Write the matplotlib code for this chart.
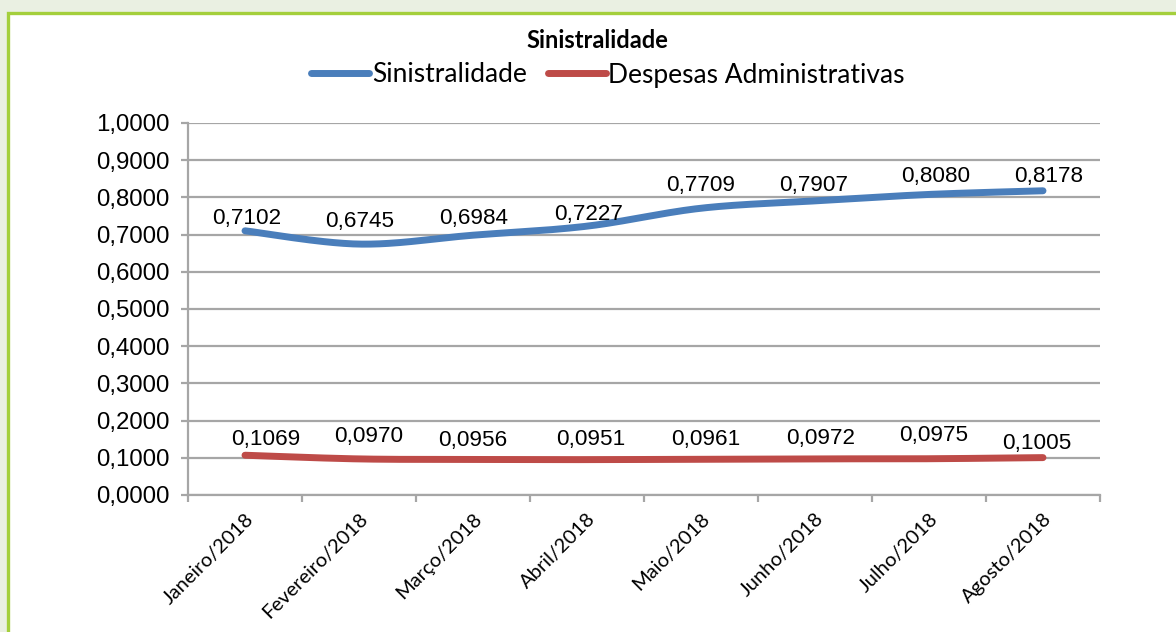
"""Sinistralidade x Despesas Administrativas, Jan-Ago 2018 (Excel-style smoothed lines)."""

import matplotlib

matplotlib.use("Agg")
import matplotlib.pyplot as plt  # noqa: E402
import numpy as np  # noqa: E402
from matplotlib.patches import Rectangle  # noqa: E402
from matplotlib.ticker import FuncFormatter, MultipleLocator  # noqa: E402

months = ["Janeiro/2018", "Fevereiro/2018", "Março/2018", "Abril/2018",
          "Maio/2018", "Junho/2018", "Julho/2018", "Agosto/2018"]
sinistralidade = [0.7102, 0.6745, 0.6984, 0.7227, 0.7709, 0.7907, 0.8080, 0.8178]
despesas_adm = [0.1069, 0.0970, 0.0956, 0.0951, 0.0961, 0.0972, 0.0975, 0.1005]

BLUE = "#4A7EBB"
RED = "#BE4B48"
GRID = "#A6A6A6"
CALIBRI = ["Lato", "DejaVu Sans"]
ARIAL = ["Liberation Sans", "DejaVu Sans"]

# label nudges in pixels (dx, dy) -- Excel placed a few of them by hand
SIN_OFFSETS = [(2, 14), (1, 25), (1, 19), (2, 14), (0, 25), (-1, 17), (7, 20), (6, 16)]
DESP_OFFSETS = [(21, 18), (10, 24), (0, 21), (4, 22), (5, 22), (6, 22), (5, 25), (-6, 16)]


def smooth(x, y, n=40):
    """Excel-like smoothed line: Catmull-Rom converted to cubic Beziers."""
    p = np.column_stack([x, y]).astype(float)
    p = np.vstack([p[0], p, p[-1]])
    t = np.linspace(0, 1, n)[:, None]
    out = []
    for i in range(1, len(p) - 2):
        p0, p1, p2, p3 = p[i - 1], p[i], p[i + 1], p[i + 2]
        c1 = p1 + (p2 - p0) / 6
        c2 = p2 - (p3 - p1) / 6
        seg = ((1 - t) ** 3) * p1 + 3 * ((1 - t) ** 2) * t * c1 + 3 * (1 - t) * t ** 2 * c2 + t ** 3 * p2
        out.append(seg if i == 1 else seg[1:])
    seg = np.vstack(out)
    return seg[:, 0], seg[:, 1]


W, H = 1176, 632
fig = plt.figure(figsize=(W / 100, H / 100), dpi=100, facecolor="#EAF0E2")

# white panel with the green frame (runs off the right and bottom edges)
fig.patches.append(Rectangle((8 / W, -0.05), 1.1, 1 - 13 / H + 0.05, transform=fig.transFigure,
                             facecolor="white", edgecolor="#A4CF3C", linewidth=2.4, zorder=-1))

ax = fig.add_axes([188 / W, 1 - 495 / H, (1100 - 188) / W, (495 - 123) / H])
ax.set_zorder(2)
ax.set_facecolor("none")

x = np.arange(len(months))
for vals, color, label, offs in ((sinistralidade, BLUE, "Sinistralidade", SIN_OFFSETS),
                                 (despesas_adm, RED, "Despesas Administrativas", DESP_OFFSETS)):
    sx, sy = smooth(x, vals)
    ax.plot(sx, sy, color=color, lw=5, solid_capstyle="round", label=label, zorder=3)
    for xi, v, (dx, dy) in zip(x, vals, offs):
        ax.annotate(f"{v:.4f}".replace(".", ","), (xi, v), xytext=(dx, dy - 2),
                    textcoords="offset pixels", ha="center", va="center",
                    fontsize=16.2, family=ARIAL, color="black", zorder=4)

ax.set_xlim(-0.5, len(months) - 0.5)
ax.set_ylim(0, 1)
ax.yaxis.set_major_locator(MultipleLocator(0.1))
ax.yaxis.set_major_formatter(FuncFormatter(lambda v, _: f"{v:.4f}".replace(".", ",")))
ax.grid(axis="y", color=GRID, lw=1.6, zorder=1)
ax.set_axisbelow(True)

ax.set_xticks(x)
ax.set_xticklabels(months, rotation=45, ha="right", rotation_mode="anchor",
                   family=CALIBRI, fontsize=14.5)
ax.set_xticks(np.arange(-0.5, len(months)), minor=True)
ax.tick_params(axis="x", which="major", length=0, pad=11)
ax.tick_params(axis="x", which="minor", length=5, width=1.6, color=GRID, direction="out")
ax.tick_params(axis="y", length=5, width=1.6, color=GRID, pad=8, labelsize=17.3)
for lab in ax.get_yticklabels():
    lab.set_family(ARIAL)

for side in ("top", "right"):
    ax.spines[side].set_visible(False)
for side in ("left", "bottom"):
    ax.spines[side].set_color(GRID)
    ax.spines[side].set_linewidth(1.6)

fig.text(597 / W, 1 - 40 / H, "Sinistralidade", ha="center", va="center",
         family=CALIBRI, fontsize=17, fontweight="bold")
fig.legend(loc="center", bbox_to_anchor=(608 / W, 1 - 75 / H), ncol=2, frameon=False,
           prop={"family": CALIBRI, "size": 19}, handlelength=2.2, handletextpad=0.1,
           columnspacing=0.8)

fig.savefig("out.png", dpi=100, facecolor=fig.get_facecolor())
